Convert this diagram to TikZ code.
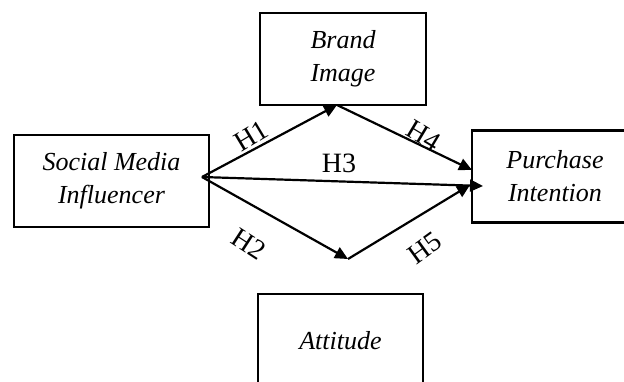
\documentclass[tikz,border=0pt]{standalone}
\usepackage{fontspec}
\setmainfont{Liberation Serif}
\usetikzlibrary{arrows.meta}
\tikzset{
  box/.style={draw, line width=2.2pt, rectangle, inner sep=0pt, align=center, font=\fontsize{26}{33}\selectfont\itshape},
  conn/.style={line width=2.2pt, -{Triangle[length=13pt,width=12pt]}},
  hlab/.style={font=\fontsize{28}{30}\selectfont, inner sep=0pt}
}
\begin{document}
\begin{tikzpicture}[x=1pt,y=-1pt]
\useasboundingbox (0,0) rectangle (624,381);
\clip (0,0) rectangle (624,381);
\node[box, minimum width=166pt, minimum height=92pt] (brand) at (343,59.2) {Brand\\Image};
\node[box, minimum width=195pt, minimum height=92pt] (smi) at (111.5,181) {Social Media\\Influencer};
\node[box, minimum width=166pt, minimum height=92pt] (pi) at (555,176.5) {Purchase\\Intention};
\node[box, minimum width=165pt, minimum height=94pt] (att) at (340.5,341) {Attitude};
\coordinate (src) at (202,177);
\coordinate (bi) at (337,105);
\coordinate (mid) at (348,259);
\coordinate (p4) at (472,170);
\coordinate (p3) at (483,186);
\coordinate (p5) at (470,185);
\draw[conn] (src) -- (bi);
\draw[conn] (bi) -- (p4);
\draw[conn] (src) -- (p3);
\draw[conn] (src) -- (mid);
\draw[conn] (mid) -- (p5);
\node[hlab, rotate=31] (h1) at (251.5,135.7) {H1};
\node[hlab, rotate=-31] (h4) at (424,135.7) {H4};
\node[hlab] (h3) at (339,163) {H3};
\node[hlab, rotate=-33] (h2) at (249,244) {H2};
\node[hlab, rotate=36] (h5) at (425,248) {H5};
\end{tikzpicture}
\end{document}
